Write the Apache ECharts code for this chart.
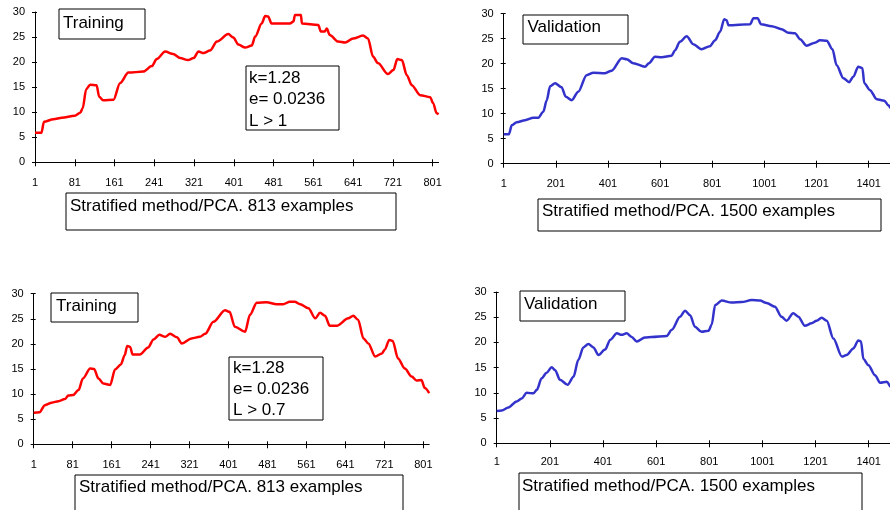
<!DOCTYPE html>
<html>
<head>
<meta charset="utf-8">
<title>Stratified method/PCA</title>
<script src="https://cdn.jsdelivr.net/npm/echarts@6.0.0/dist/echarts.min.js"></script>
<style>
  html, body { margin: 0; padding: 0; background: #fff; }
  #chart { width: 890px; height: 510px; }
</style>
</head>
<body>
<div id="chart"></div>
<script>
// ===== 数据：曲线点 =====
// 上排 Training (813 examples, L > 1)
const train1X = [1,14,19,38,55,81,92,97,104,112,125,130,138,159,172,189,219,236,246,263,279,293,309,320,330,340,353,367,390,400,410,424,437,444,457,464,470,477,514,521,524,536,538,571,576,584,588,594,611,625,641,661,671,681,691,711,722,730,739,749,759,776,796,802,809,813];
const train1Y = [5.9,5.9,8.1,8.6,8.9,9.3,9.9,10.8,14.6,15.5,15.4,13.1,12.4,12.5,15.8,17.9,18.1,19.2,20.6,22.1,21.6,20.8,20.4,20.8,22.1,21.8,22.3,24.1,25.6,24.9,23.5,22.9,23.3,25.1,27.7,29.2,29.1,27.7,27.7,28.1,29.4,29.4,27.7,27.4,26.1,26.1,26.7,25.4,24.1,23.9,24.7,25.3,24.7,21.1,19.8,17.6,18.4,20.6,20.4,17.4,15.4,13.4,13.0,11.8,9.8,9.6];

// 上排 Validation (1500 examples)
const valid1X = [1,21,32,51,83,115,134,153,166,179,198,223,239,262,287,319,345,390,415,454,473,498,543,558,581,607,645,658,677,703,728,760,792,812,831,847,856,863,946,959,975,988,1029,1067,1093,1118,1138,1163,1195,1214,1240,1262,1278,1304,1326,1342,1361,1377,1384,1406,1432,1461,1476,1487,1500];
const valid1Y = [5.9,5.9,7.7,8.3,8.7,9.2,9.2,10.4,12.7,15.5,16.1,15.3,13.4,12.7,14.4,17.7,18.2,18.1,18.6,21.1,20.9,20.1,19.4,20.1,21.4,21.3,21.6,22.7,24.4,25.5,23.9,22.9,23.5,24.7,26.4,28.9,28.7,27.7,27.9,29.1,29.1,27.9,27.5,26.9,26.2,26.1,24.9,23.6,24.2,24.7,24.6,22.9,19.7,17.1,16.3,17.4,19.4,19.1,16.1,14.7,12.9,12.6,11.7,11.1,10.3];

// 下排 Training (813 examples, L > 0.7)
const train2X = [1,13,24,38,52,65,72,82,93,102,117,125,134,144,158,168,180,188,193,199,204,219,236,247,259,271,281,295,305,325,342,353,370,394,403,414,435,445,459,479,500,513,527,537,548,565,579,589,599,609,623,647,657,667,678,688,702,716,722,731,738,749,763,777,787,797,804,813];
const train2Y = [6.3,6.4,7.8,8.3,8.6,9.0,9.7,9.8,10.8,13.1,15.1,15.0,13.1,12.1,11.8,14.9,15.9,17.8,19.6,19.4,17.9,17.9,19.3,20.9,21.8,21.4,22.0,21.3,20.1,21.1,21.4,22.0,24.4,26.7,26.4,23.4,22.4,25.8,28.2,28.3,27.9,27.9,28.4,28.4,27.9,27.1,25.1,26.2,25.6,23.6,23.6,25.1,25.6,24.8,21.1,20.1,17.5,18.1,18.9,20.8,20.6,17.1,15.1,13.5,12.7,12.8,11.2,10.2];

// 下排 Validation (1500 examples)
const valid2X = [1,20,45,76,95,114,139,152,170,189,208,221,239,268,290,308,327,346,365,384,409,428,453,471,490,509,528,559,584,641,660,691,710,729,747,772,798,810,823,848,885,923,961,992,1017,1048,1073,1092,1117,1136,1161,1186,1205,1224,1243,1268,1300,1318,1343,1362,1372,1381,1400,1425,1444,1469,1485,1500];
const valid2Y = [6.4,6.5,7.1,8.3,8.9,10.0,9.9,10.6,12.9,14.0,15.1,14.5,12.6,11.6,13.2,16.5,19.0,19.7,19.0,17.5,18.6,20.5,21.8,21.5,21.8,21.1,20.2,21.0,21.1,21.3,22.5,25.1,26.3,25.4,23.1,22.1,22.3,23.5,27.4,28.3,27.9,28.0,28.4,28.3,27.8,27.1,25.1,24.3,25.8,25.1,23.3,23.8,24.3,24.9,24.3,20.8,17.2,17.5,18.8,20.4,20.2,16.7,15.5,13.5,12.0,12.2,11.2,10.5];

// 刻度标签
const trainTicks = [1,81,161,241,321,401,481,561,641,721,801];
const validTicks = [1,201,401,601,801,1001,1201,1401];
const yTicks = [0,5,10,15,20,25,30];

// 文本
const trainLabel = 'Training';
const validLabel = 'Validation';
const trainCaption = 'Stratified method/PCA. 813 examples';
const validCaption = 'Stratified method/PCA. 1500 examples';
const statsTop = ['k=1.28', 'e= 0.0236', 'L > 1'];
const statsBottom = ['k=1.28', 'e= 0.0236', 'L > 0.7'];

const FONT = '"Liberation Sans", Arial, sans-serif';
const RED = '#ff0000';
const BLUE = '#3333cc';

function zip(xs, ys) {
    return xs.map((x, i) => [x, ys[i]]);
}

// 四个面板的位置（像素）
const panels = [
    { grid: { left: 35, top: 12, right: 451.4, bottom: 347.7 }, max: 813, ticks: trainTicks, labelMargin: 15, data: zip(train1X, train1Y), color: RED },
    { grid: { left: 503.7, top: 13.7, right: -4.5, bottom: 346.3 }, max: 1500, ticks: validTicks, labelMargin: 15, data: zip(valid1X, valid1Y), color: BLUE },
    { grid: { left: 33.7, top: 293.7, right: 460.8, bottom: 65.7 }, max: 813, ticks: trainTicks, labelMargin: 15, data: zip(train2X, train2Y), color: RED },
    { grid: { left: 496.7, top: 292, right: -5, bottom: 66.7 }, max: 1500, ticks: validTicks, labelMargin: 13, data: zip(valid2X, valid2Y), color: BLUE }
];

// 文本框
function box(x, y, w, h, lines, tx, ty, lh) {
    const children = [{
        type: 'rect',
        shape: { x: x, y: y, width: w, height: h },
        style: { fill: '#fff', stroke: '#000', lineWidth: 1 }
    }];
    lines.forEach((t, i) => {
        children.push({
            type: 'text',
            x: tx,
            y: ty + i * (lh || 0),
            style: { text: t, font: '17px ' + FONT, fill: '#000', verticalAlign: 'middle', align: 'left' }
        });
    });
    return { type: 'group', z: 100, children: children };
}

// x轴：主轴（外刻度+标签）和叠加轴（内刻度），做出穿过轴线的刻度
function makeXAxes() {
    const main = panels.map((p, i) => ({
        type: 'value',
        gridIndex: i,
        position: 'bottom',
        min: 1,
        max: p.max,
        splitLine: { show: false },
        axisLine: { lineStyle: { color: '#000', width: 1 } },
        axisTick: { customValues: p.ticks, length: 4, lineStyle: { color: '#000' } },
        axisLabel: {
            customValues: p.ticks, color: '#000', fontSize: 11, fontFamily: FONT,
            margin: p.labelMargin, formatter: v => String(v)
        }
    }));
    const overlay = panels.map((p, i) => ({
        type: 'value',
        gridIndex: i,
        position: 'bottom',
        min: 1,
        max: p.max,
        splitLine: { show: false },
        axisLine: { show: false },
        axisTick: { customValues: p.ticks, inside: true, length: 3, lineStyle: { color: '#000' } },
        axisLabel: { show: false }
    }));
    return main.concat(overlay);
}

function makeYAxes() {
    const main = panels.map((p, i) => ({
        type: 'value',
        gridIndex: i,
        position: 'left',
        min: 0,
        max: 30,
        interval: 5,
        splitLine: { show: false },
        axisLine: { show: true, lineStyle: { color: '#000', width: 1 } },
        axisTick: { show: true, customValues: yTicks, length: 3, lineStyle: { color: '#000' } },
        axisLabel: { customValues: yTicks, color: '#000', fontSize: 11, fontFamily: FONT, margin: 10 }
    }));
    const overlay = panels.map((p, i) => ({
        type: 'value',
        gridIndex: i,
        position: 'left',
        min: 0,
        max: 30,
        interval: 5,
        splitLine: { show: false },
        axisLine: { show: false },
        axisTick: { show: true, inside: true, customValues: yTicks, length: 2, lineStyle: { color: '#000' } },
        axisLabel: { show: false }
    }));
    return main.concat(overlay);
}

function initChart() {
    const chart = echarts.init(document.getElementById('chart'));

    const option = {
        backgroundColor: '#fff',
        animation: false,
        grid: panels.map(p => Object.assign({ outerBoundsMode: 'none', containLabel: false }, p.grid)),
        xAxis: makeXAxes(),
        yAxis: makeYAxes(),
        series: panels.map((p, i) => ({
            type: 'line',
            xAxisIndex: i,
            yAxisIndex: i,
            data: p.data,
            smooth: 0.3,
            smoothMonotone: 'x',
            showSymbol: false,
            lineStyle: { color: p.color, width: 2.5 }
        })),
        graphic: [
            box(59, 9, 86, 30, [trainLabel], 63, 23),
            box(246, 66, 93, 64, statsTop, 249, 78, 21.5),
            box(66, 193, 330, 37, [trainCaption], 70, 206),
            box(523, 15, 105, 29, [validLabel], 527.5, 27),
            box(538, 199, 343, 32, [validCaption], 542, 211),
            box(51, 293, 87, 29, [trainLabel], 56, 306),
            box(229, 357, 94, 63, statsBottom, 233, 368, 21),
            box(75, 475, 328, 45, [trainCaption], 79, 487),
            box(520, 291, 105, 30, [validLabel], 524, 304),
            box(519, 473, 343, 45, [validCaption], 522, 486)
        ]
    };

    chart.setOption(option);
    console.log('chart ready');
}

window.addEventListener('load', initChart);
</script>
</body>
</html>
